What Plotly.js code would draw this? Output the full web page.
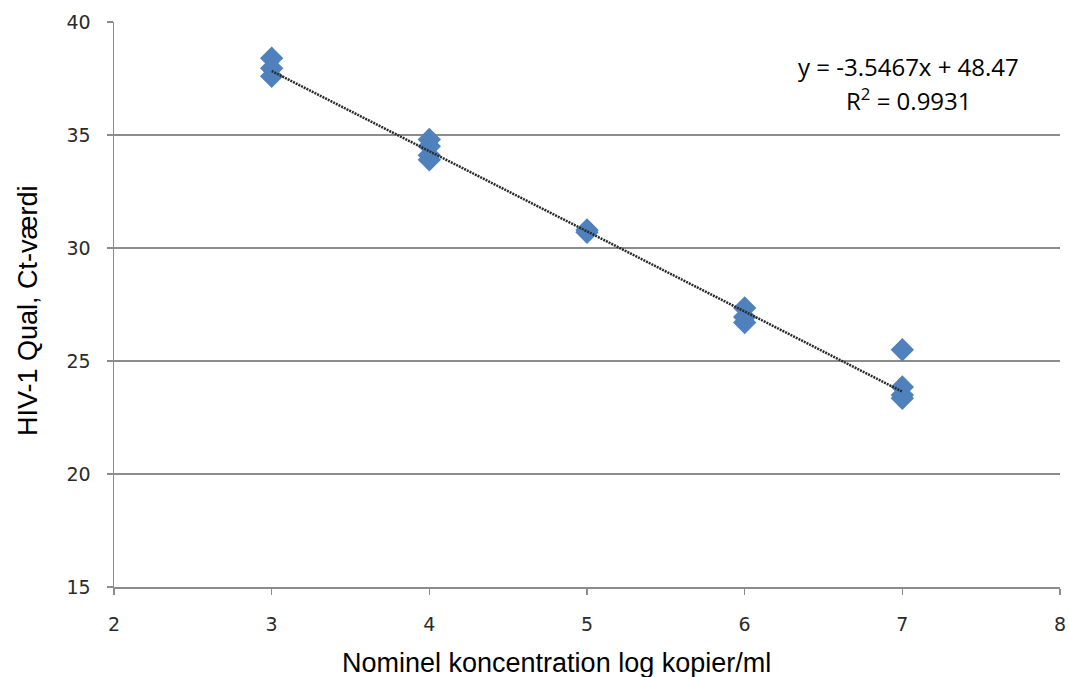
<!DOCTYPE html>
<html>
<head>
<meta charset="utf-8">
<script src="https://cdn.plot.ly/plotly-3.0.1.min.js"></script>
<style>html,body{margin:0;padding:0;background:#fff;}#chart{width:1069px;height:677px;}</style>
</head>
<body>
<div id="chart"></div>
<script>
// Data
const xValues = [3, 3, 3, 4, 4, 4, 4, 5, 5, 6, 6, 6, 7, 7, 7, 7];
const ctValues = [38.4, 37.95, 37.6, 34.8, 34.5, 34.1, 33.9, 30.8, 30.7, 27.35, 26.95, 26.7, 25.5, 23.85, 23.5, 23.35];
const trendSlope = -3.5467;
const trendIntercept = 48.47;
const trendRange = [3, 7];
const yTicks = [15, 20, 25, 30, 35, 40];
const xTicks = [2, 3, 4, 5, 6, 7, 8];

const trendX = trendRange.slice();
const trendY = trendX.map(x => trendSlope * x + trendIntercept);

const data = [
  {
    x: xValues, y: ctValues, type: 'scatter', mode: 'markers',
    marker: {symbol: 'diamond', size: 18, color: '#4F81BD', line: {width: 0}},
    showlegend: false, hoverinfo: 'x+y'
  },
  {
    x: trendX, y: trendY, type: 'scatter', mode: 'lines',
    line: {color: '#2a2a2a', width: 2.5, dash: '2px,1px'},
    showlegend: false, hoverinfo: 'skip'
  }
];

const tickFont = {family: 'DejaVu Sans', size: 19, color: '#2b2b2b'};
const titleFont = {family: 'Liberation Sans, Arial', size: 27, color: '#000'};
const layout = {
  width: 1069, height: 677,
  margin: {l: 114, r: 9, t: 22, b: 90},
  paper_bgcolor: '#ffffff', plot_bgcolor: '#ffffff',
  xaxis: {
    range: [2, 8], tickvals: xTicks, ticktext: xTicks.map(String),
    showgrid: false, zeroline: false,
    showline: true, linecolor: '#8c8c8c', linewidth: 1.5,
    ticks: 'outside', ticklen: 6, tickcolor: '#8c8c8c', tickwidth: 1.5,
    ticklabelstandoff: 14,
    tickfont: tickFont
  },
  yaxis: {
    range: [15, 40], tickvals: yTicks, ticktext: yTicks.map(String),
    showgrid: true, gridcolor: '#8c8c8c', gridwidth: 1.2, zeroline: false,
    showline: true, linecolor: '#8c8c8c', linewidth: 1.5,
    ticks: 'outside', ticklen: 6, tickcolor: '#8c8c8c', tickwidth: 1.5,
    ticklabelstandoff: 12,
    tickfont: tickFont
  },
  annotations: [
    {
      xref: 'paper', yref: 'paper', x: 0.468, y: -0.135, xanchor: 'center', yanchor: 'middle',
      text: 'Nominel koncentration log kopier/ml', showarrow: false, font: titleFont
    },
    {
      xref: 'paper', yref: 'paper', x: -0.091, y: 0.49, xanchor: 'center', yanchor: 'middle',
      text: 'HIV-1 Qual, Ct-værdi', textangle: -90, showarrow: false, font: titleFont
    },
    {
      xref: 'paper', yref: 'paper', x: 0.84, y: 0.922, xanchor: 'center', yanchor: 'middle',
      text: 'y = -3.5467x + 48.47', showarrow: false,
      font: {family: 'Open Sans', size: 24, color: '#000'}
    },
    {
      xref: 'paper', yref: 'paper', x: 0.84, y: 0.862, xanchor: 'center', yanchor: 'middle',
      text: 'R<sup>2</sup> = 0.9931', showarrow: false,
      font: {family: 'Open Sans', size: 24, color: '#000'}
    }
  ]
};

Plotly.newPlot('chart', data, layout, {displayModeBar: false, staticPlot: true});
</script>
</body>
</html>
